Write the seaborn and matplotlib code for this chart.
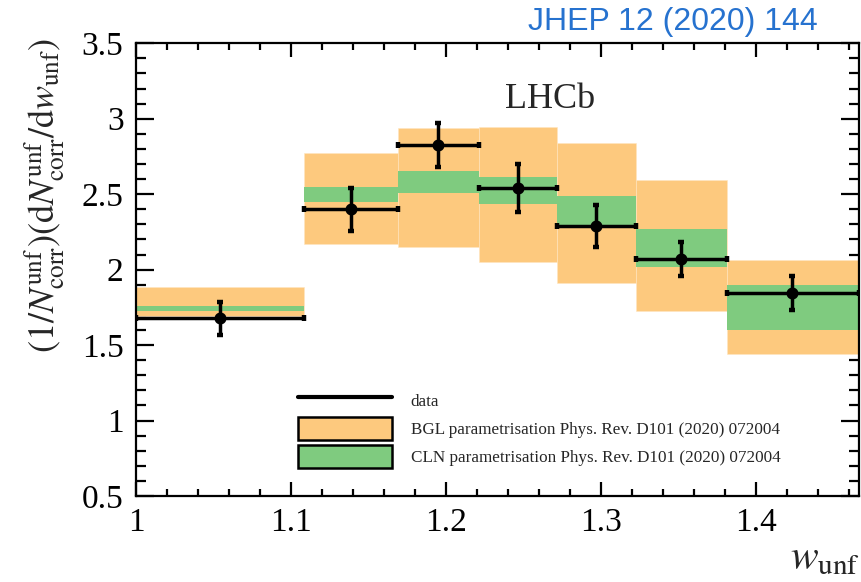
import numpy as np
import pandas as pd
import matplotlib
matplotlib.use("Agg")
import matplotlib.pyplot as plt
from matplotlib.lines import Line2D
from matplotlib.patches import Patch
from matplotlib.ticker import MultipleLocator, FuncFormatter
import seaborn as sns

# w_unf bin edges
bin_edges = [1.0, 1.1087, 1.1688, 1.2212, 1.2717, 1.3226, 1.3814, 1.4667]

# measured points (bin barycentres, normalised yield, uncertainty)
data_w = [1.054, 1.1387, 1.1949, 1.2463, 1.2969, 1.3516, 1.4233]
data_y = [1.678, 2.400, 2.829, 2.539, 2.289, 2.071, 1.847]
data_err = [0.110, 0.143, 0.146, 0.158, 0.138, 0.110, 0.114]

# BGL prediction band (low, high)
bgl_low = [1.693, 2.170, 2.148, 2.049, 1.910, 1.728, 1.441]
bgl_high = [1.887, 2.771, 2.937, 2.947, 2.841, 2.594, 2.064]

# CLN prediction band (low, high)
cln_low = [1.726, 2.448, 2.510, 2.433, 2.291, 2.020, 1.600]
cln_high = [1.761, 2.548, 2.656, 2.616, 2.486, 2.267, 1.896]

y_ticks = [0.5, 1.0, 1.5, 2.0, 2.5, 3.0, 3.5]
x_ticks = [1.0, 1.1, 1.2, 1.3, 1.4]

sns.set_theme(style="ticks")
plt.rcParams["font.family"] = ["Liberation Serif", "DejaVu Serif"]
plt.rcParams["mathtext.fontset"] = "stix"

ORANGE = "#FDC97E"
GREEN = "#7FCB7F"

edges = np.array(bin_edges)
lefts = edges[:-1]
widths = np.diff(edges)

df = pd.DataFrame({"w": data_w, "y": data_y, "err": data_err})

fig = plt.figure(figsize=(8.61, 5.82), dpi=100)
ax = fig.add_axes([136 / 861, 86 / 582, (859 - 136) / 861, (496 - 43.3) / 582])

ax.bar(lefts, np.array(bgl_high) - np.array(bgl_low), width=widths,
       bottom=bgl_low, align="edge", color=ORANGE, edgecolor="#FFE6C0",
       linewidth=0.4, zorder=1)
ax.bar(lefts, np.array(cln_high) - np.array(cln_low), width=widths,
       bottom=cln_low, align="edge", color=GREEN, edgecolor="none", zorder=2)

# horizontal bars span the full bin, vertical bars give the uncertainty
xerr = np.vstack([np.array(data_w) - lefts, edges[1:] - np.array(data_w)])
ax.errorbar(df["w"], df["y"], xerr=xerr, yerr=df["err"], fmt="none",
            ecolor="black", elinewidth=2.5, capsize=2.2, capthick=3.2, zorder=3)
sns.scatterplot(data=df, x="w", y="y", ax=ax, color="black", s=75,
                edgecolor="black", linewidth=0, zorder=4, legend=False)

ax.set_xlim(1.0, 1.4667)
ax.set_ylim(0.5, 3.5)
ax.set_xticks(x_ticks)
ax.set_yticks(y_ticks)
ax.xaxis.set_minor_locator(MultipleLocator(0.02))
ax.yaxis.set_minor_locator(MultipleLocator(0.1))
fmt = FuncFormatter(lambda v, p: f"{v:g}")
ax.xaxis.set_major_formatter(fmt)
ax.yaxis.set_major_formatter(fmt)
ax.tick_params(which="both", direction="in", top=True, right=True,
               width=1.6, colors="black", labelsize=24)
ax.tick_params(axis="y", which="major", length=13, pad=9)
ax.tick_params(axis="y", which="minor", length=7)
ax.tick_params(axis="x", which="major", length=10, pad=8)
ax.tick_params(axis="x", which="minor", length=5)
for s in ax.spines.values():
    s.set_linewidth(1.6)
    s.set_color("black")
ax.set_xlabel("")
ax.set_ylabel("")

fig.text(45 / 861, 1 - 38 / 582,
         r"$(1/N_{\rm corr}^{\rm unf})({\rm d}N_{\rm corr}^{\rm unf}/{\rm d}w_{\rm unf})$",
         rotation=90, ha="center", va="top", fontsize=26)
fig.text(860 / 861, 1 - 578 / 582, r"$w_{\rm unf}$", ha="right", va="bottom",
         fontsize=30)

ax.text(0.573, 0.875, "LHCb", transform=ax.transAxes, ha="center", va="center",
        fontsize=26)

fig.text(818 / 861, 1 - 22 / 582, "JHEP 12 (2020) 144", ha="right",
         va="center", color="#2672CF", fontsize=23,
         family=["Liberation Sans", "DejaVu Sans"])

handles = [
    Line2D([], [], color="black", lw=3),
    Patch(facecolor=ORANGE, edgecolor="black", linewidth=1.8),
    Patch(facecolor=GREEN, edgecolor="black", linewidth=1.8),
]
labels = [
    "data",
    "BGL parametrisation Phys. Rev. D101 (2020) 072004",
    "CLN parametrisation Phys. Rev. D101 (2020) 072004",
]
ax.legend(handles, labels, loc="upper left",
          bbox_to_anchor=((286 - 136) / 723, (496 - 377) / 452.7),
          frameon=False, fontsize=12.3, handlelength=5.5, handleheight=1.7,
          handletextpad=1.1, labelspacing=0.28, borderpad=0.2)

fig.savefig("out.png", dpi=100)
